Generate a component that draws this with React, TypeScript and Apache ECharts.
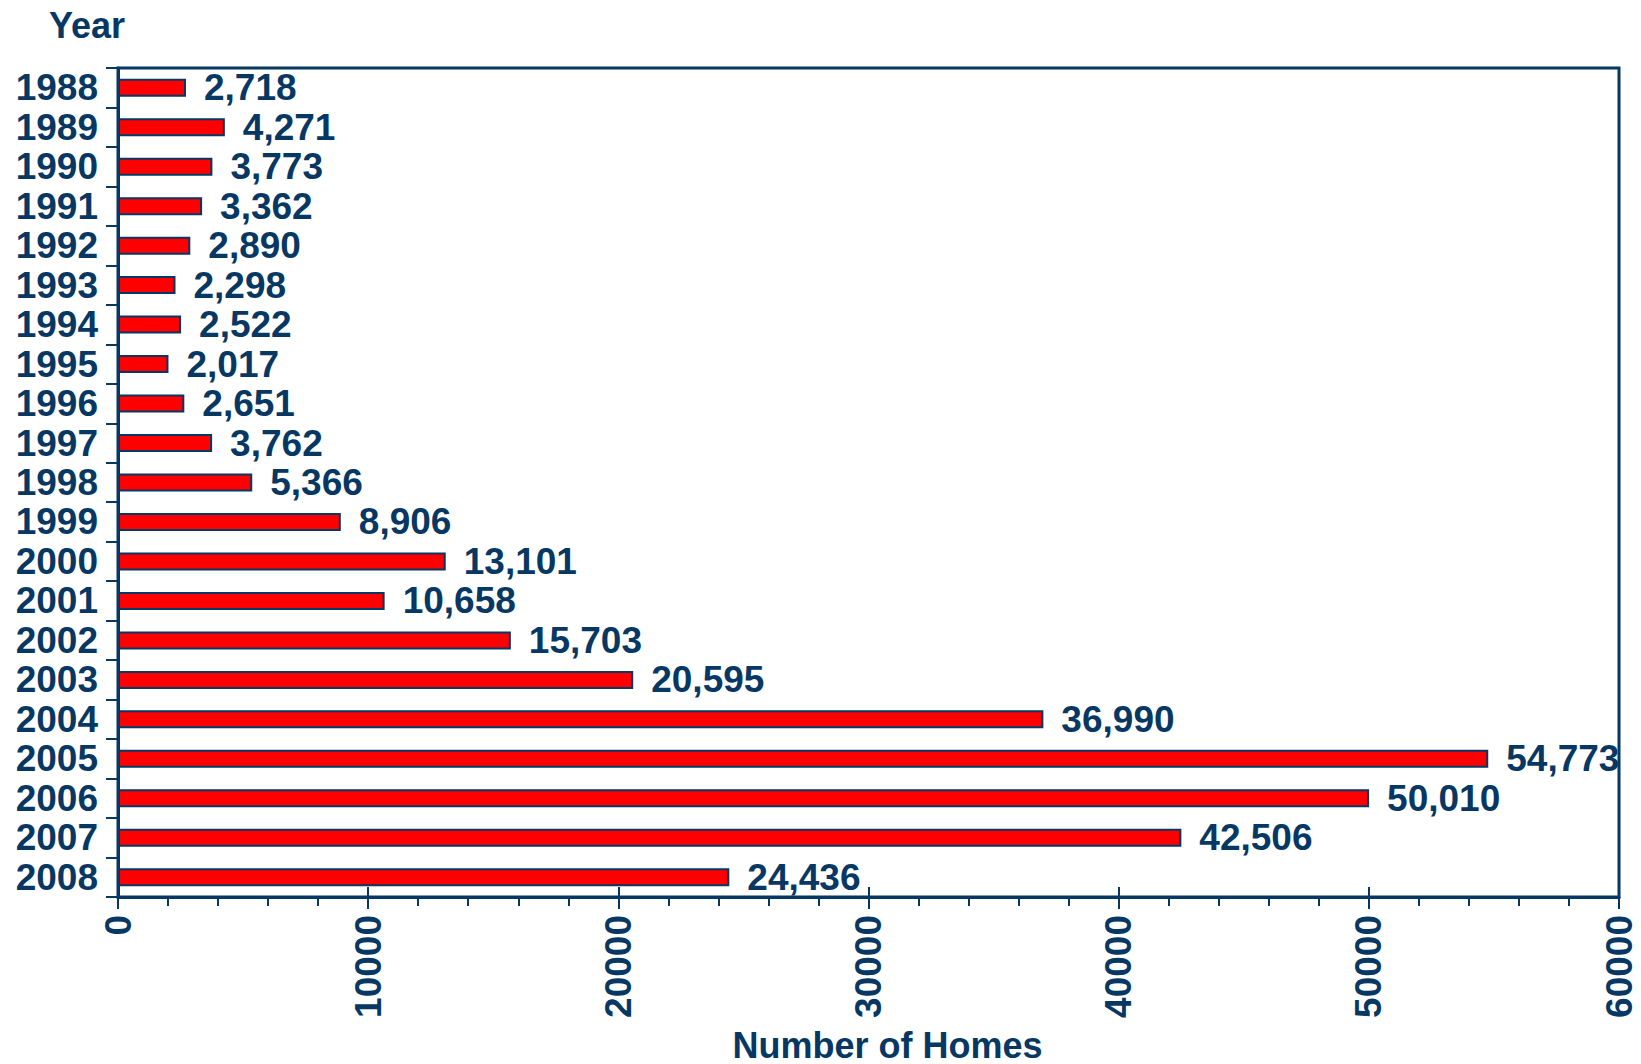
import React, { useEffect, useRef } from "react";
import * as echarts from "echarts";

const years = ["1988","1989","1990","1991","1992","1993","1994","1995","1996","1997","1998","1999","2000","2001","2002","2003","2004","2005","2006","2007","2008"];
const homes = [2718,4271,3773,3362,2890,2298,2522,2017,2651,3762,5366,8906,13101,10658,15703,20595,36990,54773,50010,42506,24436];
const xTicks = { min: 0, max: 60000, interval: 10000 };

const NAVY = "#073763";
const FONT = "'Liberation Sans', Arial, sans-serif";

export default function App() {
  const ref = useRef<HTMLDivElement>(null);
  useEffect(() => {
    const chart = echarts.init(ref.current!, null, { renderer: "svg" });
    chart.setOption({
      animation: false,
      backgroundColor: "#ffffff",
      title: {
        text: "Year",
        left: 44,
        top: 2,
        textStyle: { color: NAVY, fontFamily: FONT, fontWeight: "bold", fontSize: 36 },
      },
      grid: {
        left: 118, right: 22, top: 68, bottom: 167,
        containLabel: false,
        outerBoundsMode: "none",
        show: true, borderColor: NAVY, borderWidth: 3, backgroundColor: "transparent",
      },
      xAxis: [
        {
          type: "value",
          position: "bottom",
          min: xTicks.min, max: xTicks.max, interval: xTicks.interval,
          axisLine: { show: true, lineStyle: { color: NAVY, width: 3 } },
          axisTick: { show: true, inside: false, length: 12, lineStyle: { color: NAVY, width: 2 } },
          minorTick: { show: true, splitNumber: 5, length: 9, lineStyle: { color: NAVY, width: 2 } },
          splitLine: { show: false },
          axisLabel: {
            rotate: 90, margin: 18, color: NAVY, fontFamily: FONT, fontWeight: "bold", fontSize: 37,
            formatter: (v: number) => String(v),
          },
          name: "Number of Homes",
          nameLocation: "middle",
          nameGap: 130,
          nameTextStyle: { color: NAVY, fontFamily: FONT, fontWeight: "bold", fontSize: 36, padding: [0, 0, 0, 38] },
        },
        {
          type: "value",
          position: "bottom",
          min: xTicks.min, max: xTicks.max, interval: xTicks.interval,
          axisLine: { show: false },
          axisTick: { show: true, inside: true, length: 10, lineStyle: { color: NAVY, width: 2 } },
          axisLabel: { show: false },
          splitLine: { show: false },
        },
      ],
      yAxis: {
        type: "category",
        inverse: true,
        data: years,
        axisLine: { show: true, lineStyle: { color: NAVY, width: 3 } },
        axisTick: { show: true, length: 12, interval: 0, lineStyle: { color: NAVY, width: 2 } },
        axisLabel: {
          interval: 0, margin: 20, color: NAVY, fontFamily: FONT, fontWeight: "bold", fontSize: 37,
          padding: [8, 0, 0, 0],
        },
      },
      series: [
        {
          type: "bar",
          data: homes,
          xAxisIndex: 0,
          barWidth: 18,
          itemStyle: { color: "#ff0000", borderColor: NAVY, borderWidth: 2 },
          label: {
            show: true,
            position: "right",
            distance: 18,
            color: NAVY,
            fontFamily: FONT,
            fontWeight: "bold",
            fontSize: 37,
            formatter: (p: any) => Number(p.value).toLocaleString("en-US"),
          },
        },
      ],
    });
    return () => chart.dispose();
  }, []);
  return <div ref={ref} style={{ position: "fixed", left: 0, top: 0, width: 1641, height: 1064 }} />;
}
